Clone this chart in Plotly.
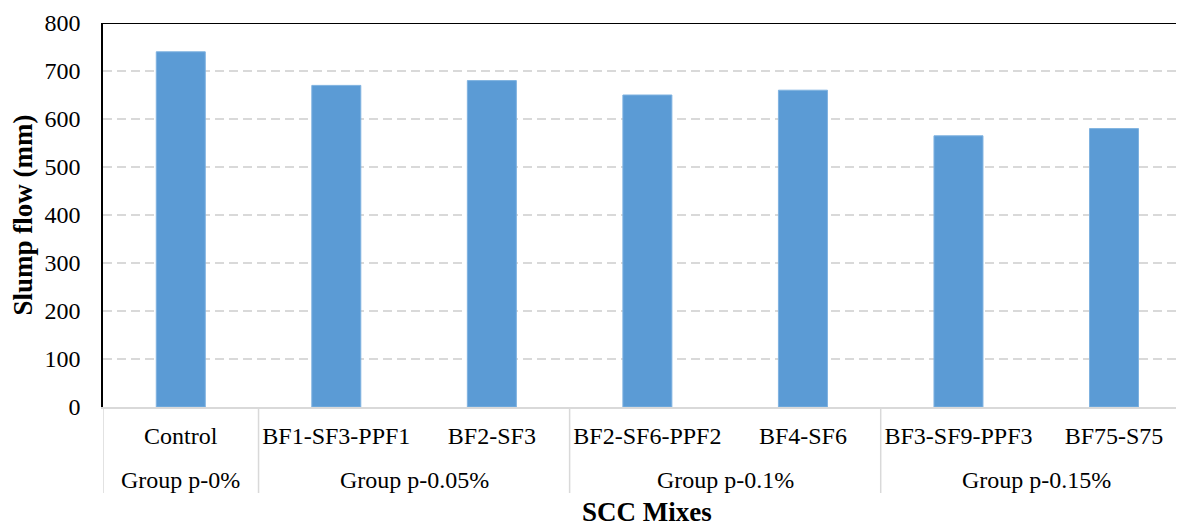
import plotly.graph_objects as go

mixes = ["Control", "BF1-SF3-PPF1", "BF2-SF3", "BF2-SF6-PPF2", "BF4-SF6",
         "BF3-SF9-PPF3", "BF75-S75"]
slump_flow = [740, 670, 680, 650, 660, 565, 580]
group_names = ["Group p-0%", "Group p-0.05%", "Group p-0.1%", "Group p-0.15%"]
group_sizes = [1, 2, 2, 2]

FONT = "Liberation Serif"
FS = 24

fig = go.Figure()
fig.add_trace(go.Bar(
    x=mixes, y=slump_flow,
    marker=dict(color="#5B9BD5", line=dict(color="#7FB2E0", width=1)),
    width=0.315,
))

# page has an 8px body margin; figure shrunk/shifted to compensate
fig.update_layout(
    width=1176, height=519,
    margin=dict(l=95, r=0, t=15, b=120),
    paper_bgcolor="white", plot_bgcolor="white",
    showlegend=False,
    font=dict(family=FONT, size=FS, color="black"),
    xaxis=dict(
        type="category",
        range=[-0.5, 6.45],
        automargin=False,
        showline=True, linecolor="#D9D9D9", linewidth=1.5,
        showgrid=False, ticks="",
        tickfont=dict(family=FONT, size=FS, color="black"),
        ticklabelstandoff=6,
    ),
    yaxis=dict(
        range=[0, 800], dtick=100,
        automargin=False,
        showline=True, linecolor="black", linewidth=1.5,
        showgrid=True, gridcolor="#D9D9D9", gridwidth=1.5, griddash="9px,5px",
        zeroline=False, ticks="",
        tickfont=dict(family=FONT, size=FS, color="black"),
        ticklabelstandoff=16,
        title=dict(text="<b>Slump flow (mm)</b>", font=dict(family=FONT, size=27), standoff=8),
    ),
)

fig.add_shape(type="line", xref="paper", yref="y", x0=0, x1=1, y0=800, y1=800,
              line=dict(color="black", width=2))

# group dividers and labels
start = 0
bounds = [-0.5]
for name, n in zip(group_names, group_sizes):
    center = start + (n - 1) / 2
    fig.add_annotation(x=center, xref="x", y=-0.19, yref="paper", text=name,
                       showarrow=False, yanchor="middle",
                       font=dict(family=FONT, size=FS, color="black"))
    start += n
    bounds.append(start - 0.5)
for b in bounds:
    fig.add_shape(type="line", xref="x", yref="paper", x0=b, x1=b, y0=0, y1=-0.224,
                  line=dict(color="#D9D9D9", width=1.5))

fig.add_annotation(x=3, xref="x", y=-0.274, yref="paper", text="<b>SCC Mixes</b>",
                   showarrow=False, yanchor="middle",
                   font=dict(family=FONT, size=27, color="black"))

fig.write_html("out.html")
